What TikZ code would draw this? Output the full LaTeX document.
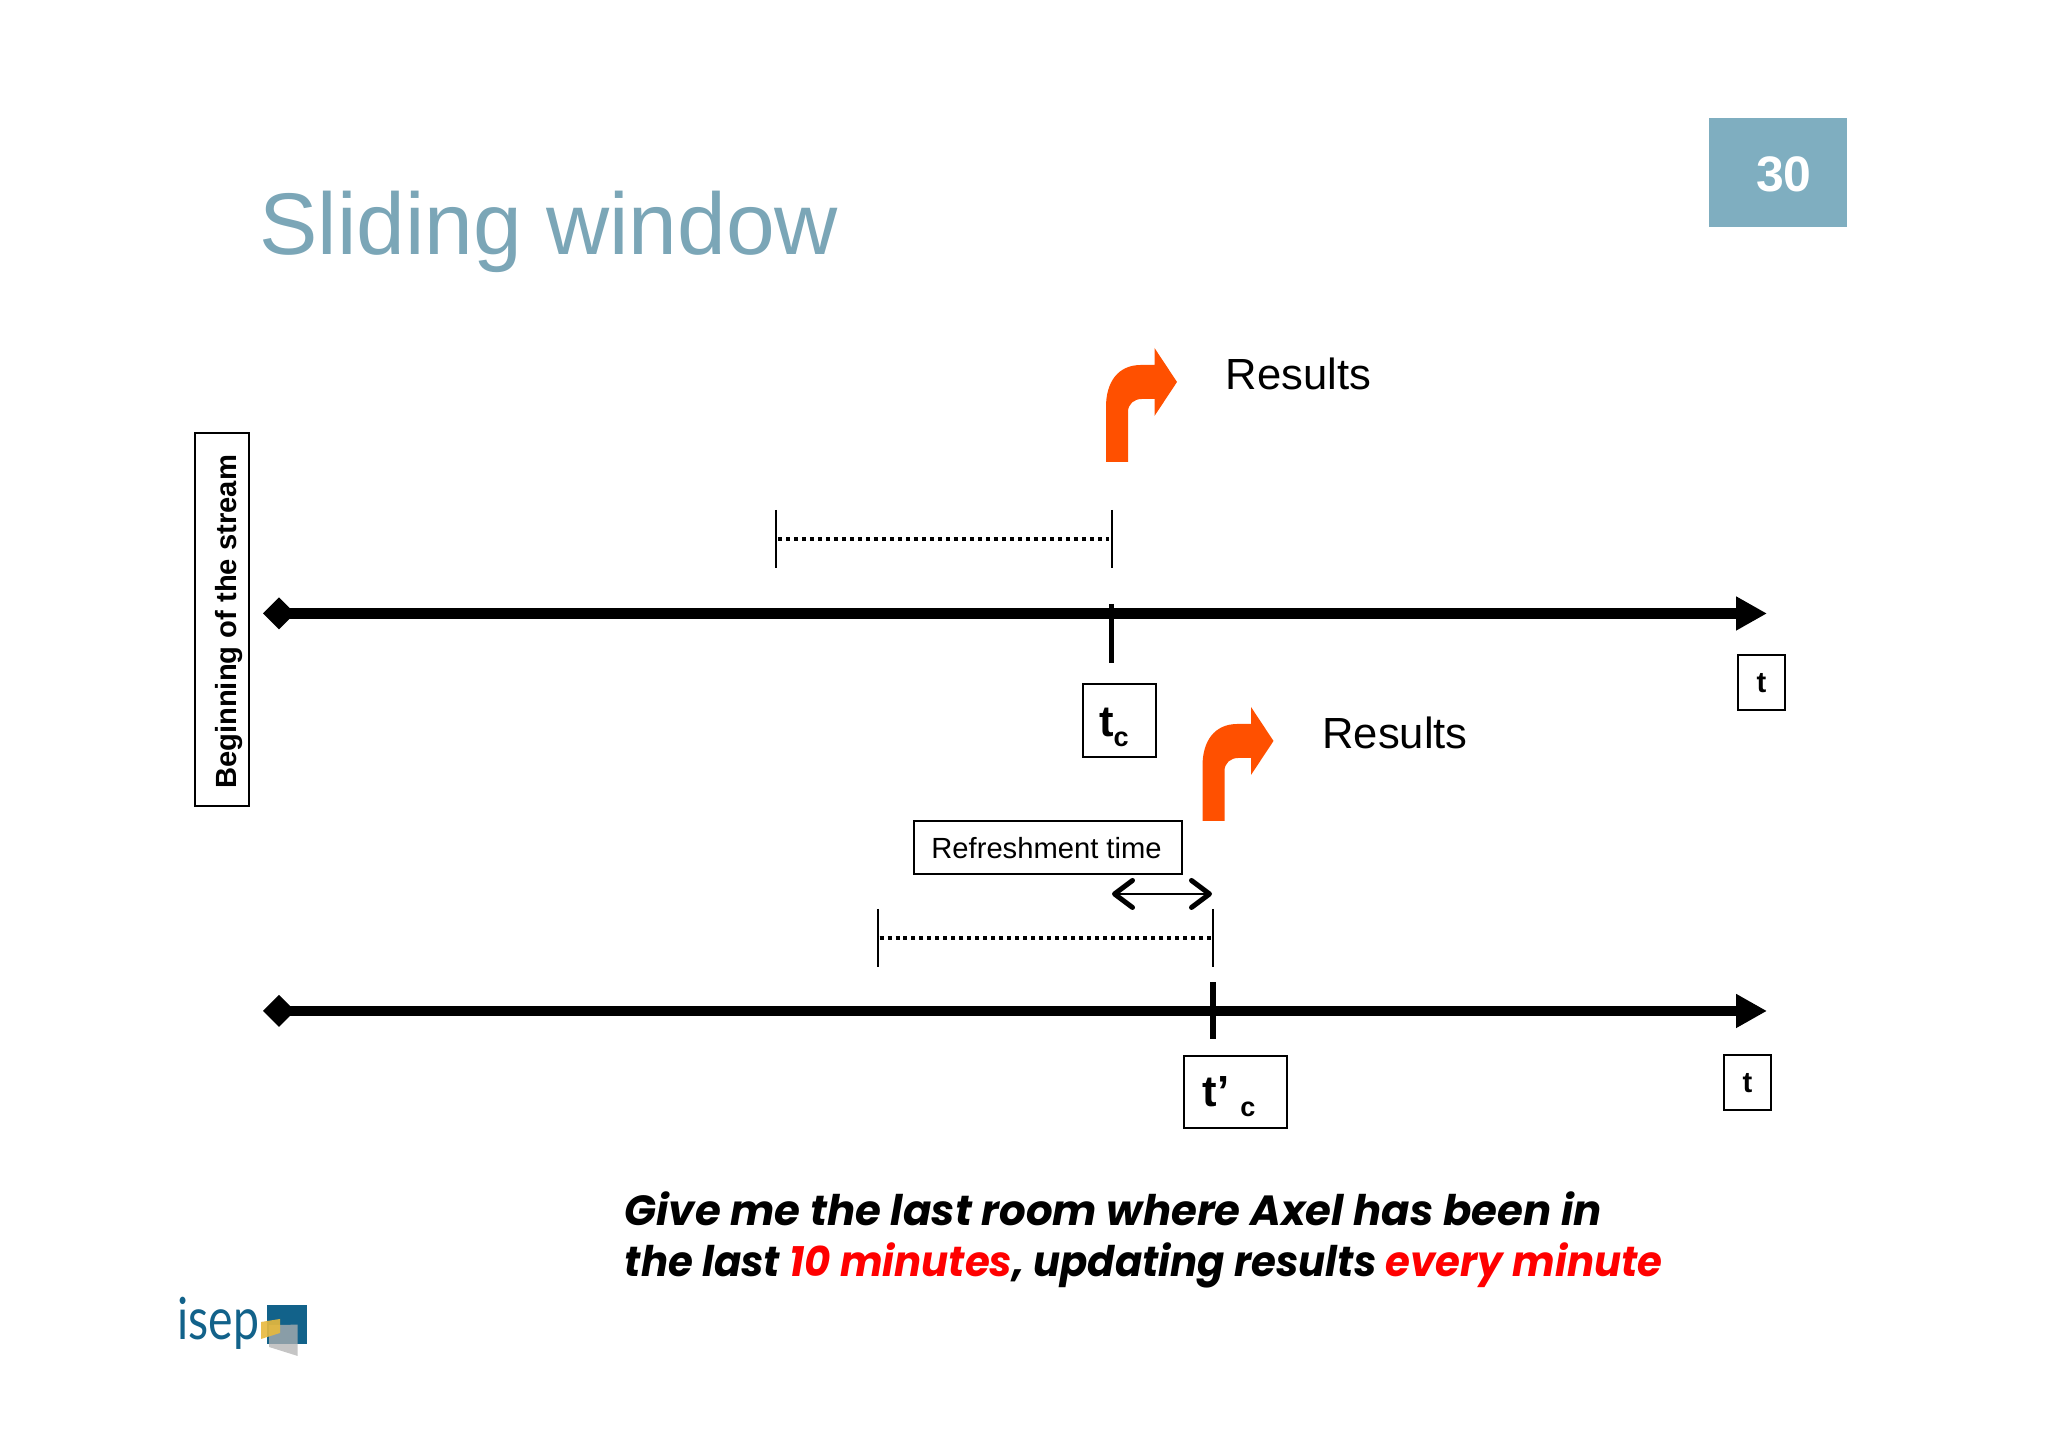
\documentclass[tikz,border=0pt]{standalone}
\usepackage{fontspec}
\setmainfont{Liberation Sans}
\newfontfamily\logofont{Lato}
\newfontfamily\queryfam{Poppins}
\usepackage{tikz}
\usetikzlibrary{arrows.meta}

\definecolor{slidetitle}{HTML}{7BA6B7}
\definecolor{slidebadge}{HTML}{7FAEC0}
\definecolor{resorange}{HTML}{FF5000}
\definecolor{logoblue}{HTML}{12628A}
\definecolor{logoyellow}{HTML}{E8B93C}

\tikzset{
	labelbox/.style={draw, line width=0.02cm, inner sep=0pt},
	resfont/.style={anchor=base west, inner sep=0pt, font=\fontsize{12.4}{15}\selectfont},
	queryfont/.style={anchor=base west, inner sep=0pt, font=\queryfam\fontsize{12}{16}\selectfont\bfseries\itshape},
	timeaxis/.style={line width=0.107cm, {Diamond[length=0.32cm,width=0.32cm]}-{Triangle[length=0.31cm,width=0.32cm]}},
	tickmark/.style={line width=0.055cm},
	winend/.style={line width=0.02cm},
	windots/.style={line width=0.04cm, dash pattern=on 0.04cm off 0.04cm},
	resultarrow/.pic={
		\fill[resorange] (0,0) -- (0.22,0) -- (0.22,0.50)
			.. controls (0.22,0.58) and (0.28,0.63) .. (0.36,0.63)
			-- (0.485,0.63) -- (0.485,0.46) -- (0.71,0.80) -- (0.485,1.14) -- (0.485,0.97) -- (0.35,0.97)
			.. controls (0.12,0.97) and (0,0.80) .. (0,0.55) -- cycle;
	}
}

\begin{document}
\begin{tikzpicture}
	\useasboundingbox (0,0) rectangle (20.48,14.47);
	\fill[white] (0,0) rectangle (20.48,14.47);

	% Title and page number
	\node[anchor=base west, inner sep=0pt, text=slidetitle, font=\fontsize{24.9}{30}\selectfont] (title) at (2.586,11.92) {Sliding window};
	\node[fill=slidebadge, minimum width=1.38cm, minimum height=1.09cm, inner sep=0pt] (badge) at (17.78,12.745) {};
	\node[text=white, inner sep=0pt, font=\fontsize{14.2}{16}\selectfont\bfseries] (pagenum) at (17.84,12.73) {30};

	% Beginning of the stream
	\node[labelbox, font=\fontsize{8.3}{10}\selectfont\bfseries, rotate=90, minimum width=3.73cm, minimum height=0.54cm] (begin) at (2.22,8.275) {\hspace*{-0.05cm}\raisebox{-0.144cm}[0pt][0pt]{Beginning of the stream}};

	% First axis
	\coordinate (axisAstart) at (2.63,8.335);
	\coordinate (axisAend) at (17.67,8.335);
	\draw[timeaxis] (axisAstart) -- (axisAend);
	\coordinate (tickAtop) at (11.115,8.43);
	\coordinate (tickAbot) at (11.115,7.84);
	\draw[tickmark] (tickAtop) -- (tickAbot);

	% First window
	\coordinate (winAlefttop) at (7.76,9.37);
	\coordinate (winAleftbot) at (7.76,8.79);
	\coordinate (winArighttop) at (11.115,9.37);
	\coordinate (winArightbot) at (11.115,8.79);
	\coordinate (winAleft) at (7.78,9.083);
	\coordinate (winAright) at (11.09,9.083);
	\draw[winend] (winAlefttop) -- (winAleftbot);
	\draw[winend] (winArighttop) -- (winArightbot);
	\draw[windots] (winAleft) -- (winAright);

	% Labels of first axis
	\node[labelbox, minimum width=0.73cm, minimum height=0.73cm, font=\fontsize{12.4}{14}\selectfont\bfseries] (tc) at (11.19,7.262) {\hspace*{-0.1cm}\raisebox{-0.16cm}[0pt][0pt]{t\raisebox{-0.1cm}{\fontsize{7.7}{9}\selectfont c}}};
	\node[labelbox, font=\fontsize{8.3}{10}\selectfont\bfseries, minimum width=0.47cm, minimum height=0.55cm] (tA) at (17.615,7.642) {t};
	\pic at (11.06,9.85) {resultarrow};
	\node[resfont] (resA) at (12.25,10.57) {Results};

	% Second axis
	\coordinate (axisBstart) at (2.63,4.36);
	\coordinate (axisBend) at (17.67,4.36);
	\draw[timeaxis] (axisBstart) -- (axisBend);
	\coordinate (tickBtop) at (12.13,4.645);
	\coordinate (tickBbot) at (12.13,4.075);
	\draw[tickmark] (tickBtop) -- (tickBbot);

	% Second window
	\coordinate (winBlefttop) at (8.775,5.38);
	\coordinate (winBleftbot) at (8.775,4.80);
	\coordinate (winBrighttop) at (12.13,5.38);
	\coordinate (winBrightbot) at (12.13,4.80);
	\coordinate (winBleft) at (8.795,5.09);
	\coordinate (winBright) at (12.105,5.09);
	\draw[winend] (winBlefttop) -- (winBleftbot);
	\draw[winend] (winBrighttop) -- (winBrightbot);
	\draw[windots] (winBleft) -- (winBright);

	% Refreshment time
	\node[labelbox, font=\fontsize{8.3}{10}\selectfont, minimum width=2.68cm, minimum height=0.53cm] (refresh) at (10.475,5.995) {\hspace*{-0.02cm}\raisebox{-0.112cm}[0pt][0pt]{Refreshment time}};
	\coordinate (refA) at (11.12,5.53);
	\coordinate (refB) at (12.12,5.53);
	\draw[line width=0.02cm, {Straight Barb[length=0.18cm,width=0.27cm,line width=0.05cm,round]}-{Straight Barb[length=0.18cm,width=0.27cm,line width=0.05cm,round]}] (refA) -- (refB);

	% Labels of second axis
	\node[labelbox, minimum width=1.03cm, minimum height=0.72cm, font=\fontsize{12.4}{14}\selectfont\bfseries] (tpc) at (12.35,3.55) {\hspace*{-0.12cm}\raisebox{-0.15cm}[0pt][0pt]{t’\hspace{0.11cm}\raisebox{-0.1cm}{\fontsize{7.7}{9}\selectfont c}}};
	\node[labelbox, font=\fontsize{8.3}{10}\selectfont\bfseries, minimum width=0.47cm, minimum height=0.55cm] (tB) at (17.475,3.642) {t};
	\pic at (12.025,6.26) {resultarrow};
	\node[resfont] (resB) at (13.217,6.98) {Results};

	% Query
	\node[queryfont, xscale=0.992] (queryA) at (6.24,2.21) {Give me the last room where Axel has been in};
	\node[queryfont, xscale=0.954] (queryB) at (6.24,1.70) {the last \textcolor{red}{10 minutes}, updating results \textcolor{red}{every minute}};

	% Logo
	\fill[logoblue] (2.67,1.42) rectangle (3.073,1.03);
	\fill[gray!60, opacity=0.75] (2.69,1.22) -- (2.977,1.223) -- (2.977,0.91) -- (2.69,1.00) -- cycle;
	\fill[logoyellow, opacity=0.9] (2.61,1.25) -- (2.80,1.28) -- (2.80,1.14) -- (2.61,1.08) -- cycle;
	\node[anchor=base west, inner sep=0pt, text=logoblue, xscale=0.8, font=\logofont\fontsize{16.5}{20}\selectfont] (isep) at (1.77,1.07) {isep};
\end{tikzpicture}
\end{document}
